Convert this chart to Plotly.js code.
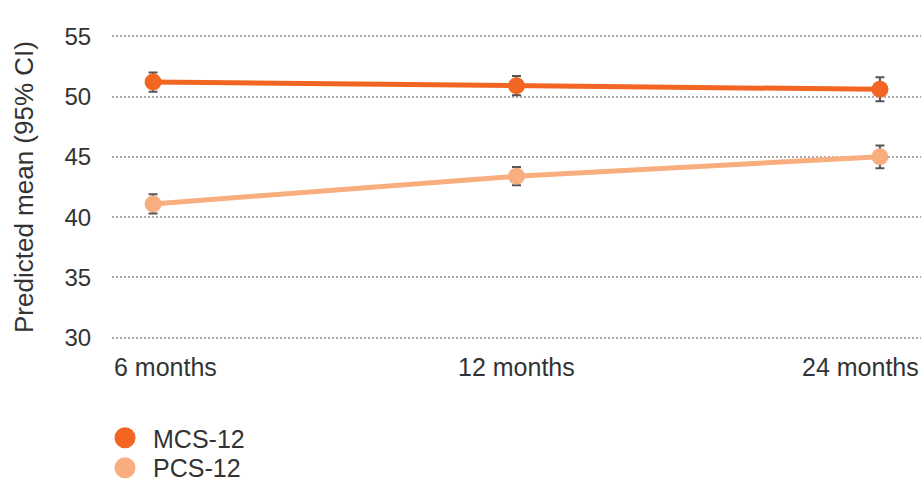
<!DOCTYPE html>
<html>
<head>
<meta charset="utf-8">
<script src="https://cdn.plot.ly/plotly-3.0.1.min.js"></script>
<style>html,body{margin:0;padding:0;background:#fff;}#chart{width:921px;height:485px;}</style>
</head>
<body>
<div id="chart"></div>
<script>
const categories = ["6 months", "12 months", "24 months"];
const seriesNames = ["MCS-12", "PCS-12"];
const mcsValues = [51.2, 50.9, 50.6];
const mcsErrors = [0.8, 0.8, 1.0];
const pcsValues = [41.1, 43.4, 45.0];
const pcsErrors = [0.8, 0.75, 0.95];
const yTicks = [30, 35, 40, 45, 50, 55];
const yTitle = "Predicted mean (95% CI)";

const colors = ["#f26522", "#f9ae7f"];
const font = "Liberation Sans, Arial, sans-serif";
const textColor = "#333333";
const idx = categories.map((c, i) => i);

function mainTrace(vals, errs, color, name) {
  return {
    type: "scatter", mode: "lines+markers", name: name, showlegend: false,
    x: idx, y: vals,
    line: {color: color, width: 5},
    marker: {color: color, size: 17},
    error_y: {type: "data", array: errs, visible: true, color: "#555555", thickness: 2, width: 4.5},
    hoverinfo: "x+y"
  };
}
function legendTrace(color, name, legendId) {
  return {
    type: "scatter", mode: "markers", name: name, showlegend: true, legend: legendId,
    x: [null], y: [null],
    marker: {color: color, size: 16, line: {color: color, width: 5}}
  };
}

const data = [
  mainTrace(mcsValues, mcsErrors, colors[0], seriesNames[0]),
  mainTrace(pcsValues, pcsErrors, colors[1], seriesNames[1]),
  legendTrace(colors[0], seriesNames[0], "legend"),
  legendTrace(colors[1], seriesNames[1], "legend2")
];

const anchors = ["left", "center", "right"];
const annotations = categories.map((c, i) => ({
  text: c, xref: "paper", yref: "paper",
  x: i / (categories.length - 1), y: 0,
  xanchor: anchors[i], yanchor: "top", yshift: -12,
  showarrow: false, font: {family: font, size: 25, color: textColor}
}));
annotations.push({
  text: yTitle, xref: "paper", yref: "paper",
  x: -0.1088, y: 0.5, xanchor: "center", yanchor: "middle", textangle: -90,
  showarrow: false, font: {family: font, size: 26, color: textColor}
});

function legendBox(yPaper) {
  return {
    x: -0.0185, xanchor: "left", y: yPaper, yanchor: "middle",
    font: {family: font, size: 25, color: textColor},
    bgcolor: "rgba(0,0,0,0)", itemclick: false, itemwidth: 46
  };
}

const layout = {
  width: 921, height: 485,
  margin: {l: 112, r: 0, t: 35, b: 146, autoexpand: false},
  paper_bgcolor: "#ffffff", plot_bgcolor: "#ffffff",
  font: {family: font, size: 24, color: textColor},
  showlegend: true,
  legend: legendBox(-0.3257),
  legend2: legendBox(-0.4243),
  xaxis: {
    range: [-0.113, 2.113], showticklabels: false, showgrid: false,
    zeroline: false, showline: false, ticks: "", fixedrange: true
  },
  yaxis: {
    range: [29.9, 55.1], tickvals: yTicks, ticktext: yTicks.map(String),
    showgrid: true, gridcolor: "#aaaaaa", gridwidth: 2, griddash: "2px,2px",
    zeroline: false, showline: false, automargin: false,
    ticks: "outside", ticklen: 15, tickcolor: "rgba(0,0,0,0)",
    tickfont: {family: font, size: 24, color: textColor}
  },
  annotations: annotations
};

Plotly.newPlot("chart", data, layout, {displayModeBar: false, staticPlot: true});
</script>
</body>
</html>
